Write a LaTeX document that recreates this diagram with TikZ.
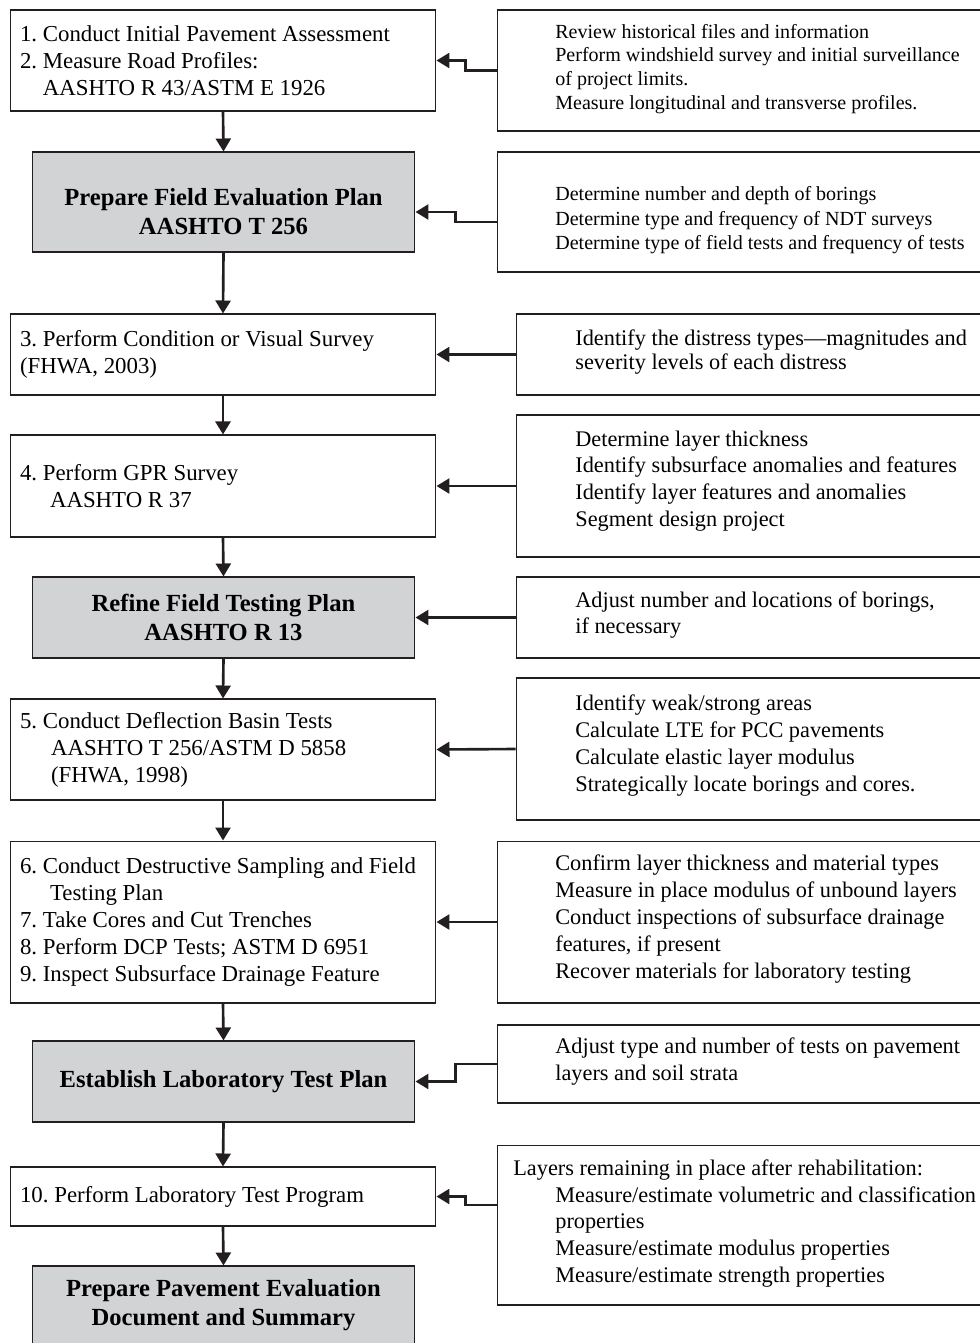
\documentclass[tikz,border=0pt]{standalone}
\usepackage{fontspec}
\setmainfont{Liberation Serif}
\usetikzlibrary{arrows.meta, positioning}
\frenchspacing

\begin{document}
\begin{tikzpicture}[
    x=0.02cm, y=-0.02cm,
    stepbox/.style={draw=linecolor, line width=0.6pt, inner xsep=0.2cm, inner ysep=0pt,
        text width=8.12cm, minimum width=8.52cm, align=flush left,
        font=\fontsize{13}{15.3}\selectfont},
    keybox/.style={draw=linecolor, fill=boxgray, line width=0.6pt, inner xsep=0.2cm,
        inner ysep=0pt, text width=7.26cm, minimum width=7.66cm, align=flush center,
        font=\bfseries\fontsize{14}{16.4}\selectfont},
    keytext/.style={inner sep=0pt, align=center,
        font=\bfseries\fontsize{14}{16.4}\selectfont},
    notebox/.style={draw=linecolor, line width=0.6pt, inner sep=0pt},
    notetext/.style={anchor=west, align=left, inner sep=0pt,
        font=\fontsize{12.7}{15.3}\selectfont},
    flow/.style={draw=linecolor, line width=1.5pt,
        -{Triangle[length=0.26cm, width=0.30cm]}},
]

\definecolor{linecolor}{HTML}{231F20}
\definecolor{boxgray}{HTML}{D2D3D5}

\useasboundingbox (0,0) rectangle (980,1343);

% ---------------------------------------------------------------- steps (left)
\node[stepbox, minimum height=2.02cm] (assess) at (223,60.5)
    {1. Conduct Initial Pavement Assessment\\
     2. Measure Road Profiles:\\
     \hphantom{2. }AASHTO R 43/ASTM E 1926};
% text sits a little below the middle of this box
\node[keybox, minimum height=2.00cm] (fieldplan) at (223.5,202) {};
\node[keytext] (fieldplantext) at (223.5,211.5)
    {Prepare Field Evaluation Plan\\AASHTO T 256};
\node[stepbox, minimum height=1.62cm] (visual) at (223,354.5)
    {3. Perform Condition or Visual Survey\\(FHWA, 2003)};
\node[stepbox, minimum height=2.04cm] (gpr) at (223,486)
    {4. Perform GPR Survey\\\hspace*{0.6cm}AASHTO R 37};
\node[keybox, minimum height=1.62cm] (refine) at (223.5,617.5)
    {Refine Field Testing Plan\\AASHTO R 13};
\node[stepbox, minimum height=2.02cm] (deflect) at (223,749.5)
    {5. Conduct Deflection Basin Tests\\
     \hspace*{0.62cm}AASHTO T 256/ASTM D 5858\\
     \hspace*{0.62cm}(FHWA, 1998)};
\node[stepbox, minimum height=3.24cm] (destruct) at (223,922)
    {6. Conduct Destructive Sampling and Field\\
     \hspace*{0.6cm}Testing Plan\\
     7. Take Cores and Cut Trenches\\
     8. Perform DCP Tests; ASTM D 6951\\
     9. Inspect Subsurface Drainage Feature};
\node[keybox, minimum height=1.62cm] (labplan) at (223.5,1081.5)
    {Establish Laboratory Test Plan};
\node[stepbox, minimum height=1.18cm] (labtest) at (223,1196.5)
    {10. Perform Laboratory Test Program};
\node[keybox, minimum height=1.58cm] (summary) at (223.5,1305.5)
    {Prepare Pavement Evaluation\\Document and Summary};

\foreach \a/\b in {assess/fieldplan, fieldplan/visual, visual/gpr, gpr/refine,
                   refine/deflect, deflect/destruct, destruct/labplan,
                   labplan/labtest, labtest/summary} {
    \draw[flow] (\a.south) -- (\b.north);
}

% ---------------------------------------------------------------- notes (right)
\node[notebox, minimum width=9.86cm, minimum height=2.42cm] (nassess) at (743.5,70.5) {};
\node[notetext, font=\fontsize{11.4}{13.6}\selectfont] (tassess) at (555,69)
    {Review historical files and information\\
     Perform windshield survey and initial surveillance\\
     of project limits.\\
     Measure longitudinal and transverse profiles.};

\node[notebox, minimum width=9.86cm, minimum height=2.40cm] (nfieldplan) at (743.5,212) {};
\node[notetext, font=\fontsize{11.4}{13.9}\selectfont] (tfieldplan) at (555,220.5)
    {Determine number and depth of borings\\
     Determine type and frequency of NDT surveys\\
     Determine type of field tests and frequency of tests};

\node[notebox, minimum width=9.48cm, minimum height=1.62cm] (nvisual) at (753,354.5) {};
\node[notetext, font=\fontsize{12.7}{13.6}\selectfont] (tvisual) at (575,352)
    {Identify the distress types—magnitudes and\\
     severity levels of each distress};

\node[notebox, minimum width=9.48cm, minimum height=2.84cm] (ngpr) at (753,486) {};
\node[notetext] (tgpr) at (575,481)
    {Determine layer thickness\\
     Identify subsurface anomalies and features\\
     Identify layer features and anomalies\\
     Segment design project};

\node[notebox, minimum width=9.48cm, minimum height=1.62cm] (nrefine) at (753,617.5) {};
\node[notetext] (trefine) at (575,615)
    {Adjust number and locations of borings,\\
     if necessary};

\node[notebox, minimum width=9.48cm, minimum height=2.84cm] (ndeflect) at (753,749) {};
\node[notetext] (tdeflect) at (575,745.5)
    {Identify weak/strong areas\\
     Calculate LTE for PCC pavements\\
     Calculate elastic layer modulus\\
     Strategically locate borings and cores.};

\node[notebox, minimum width=9.86cm, minimum height=3.24cm] (ndestruct) at (743.5,922) {};
\node[notetext] (tdestruct) at (555,919)
    {Confirm layer thickness and material types\\
     Measure in place modulus of unbound layers\\
     Conduct inspections of subsurface drainage\\
     features, if present\\
     Recover materials for laboratory testing};

\node[notebox, minimum width=9.86cm, minimum height=1.56cm] (nlabplan) at (743.5,1064) {};
\node[notetext] (tlabplan) at (555,1061.5)
    {Adjust type and number of tests on pavement\\
     layers and soil strata};

\node[notebox, minimum width=9.86cm, minimum height=3.20cm] (nlabtest) at (743.5,1225) {};
\node[notetext] (tlabtest) at (513,1223.5)
    {Layers remaining in place after rehabilitation:\\
     \hspace*{0.84cm}Measure/estimate volumetric and classification\\
     \hspace*{0.84cm}properties\\
     \hspace*{0.84cm}Measure/estimate modulus properties\\
     \hspace*{0.84cm}Measure/estimate strength properties};

% ---------------------------------------------------------------- notes feed the steps
\draw[flow] (nassess.west) -- ++(-31,0) |- (assess.east);
\draw[flow] ([shift={(0,10)}]nfieldplan.west) -- ++(-41,0) |- ([shift={(0,10)}]fieldplan.east);
\draw[flow] (nvisual.west) -- (visual.east);
\draw[flow] (ngpr.west) -- (gpr.east);
\draw[flow] (nrefine.west) -- (refine.east);
\draw[flow] (ndeflect.west) -- (deflect.east);
\draw[flow] (ndestruct.west) -- (destruct.east);
\draw[flow] (nlabplan.west) -- ++(-41,0) |- (labplan.east);
\draw[flow] ([shift={(0,-20)}]nlabtest.west) -- ++(-31,0) |- (labtest.east);

\end{tikzpicture}
\end{document}
